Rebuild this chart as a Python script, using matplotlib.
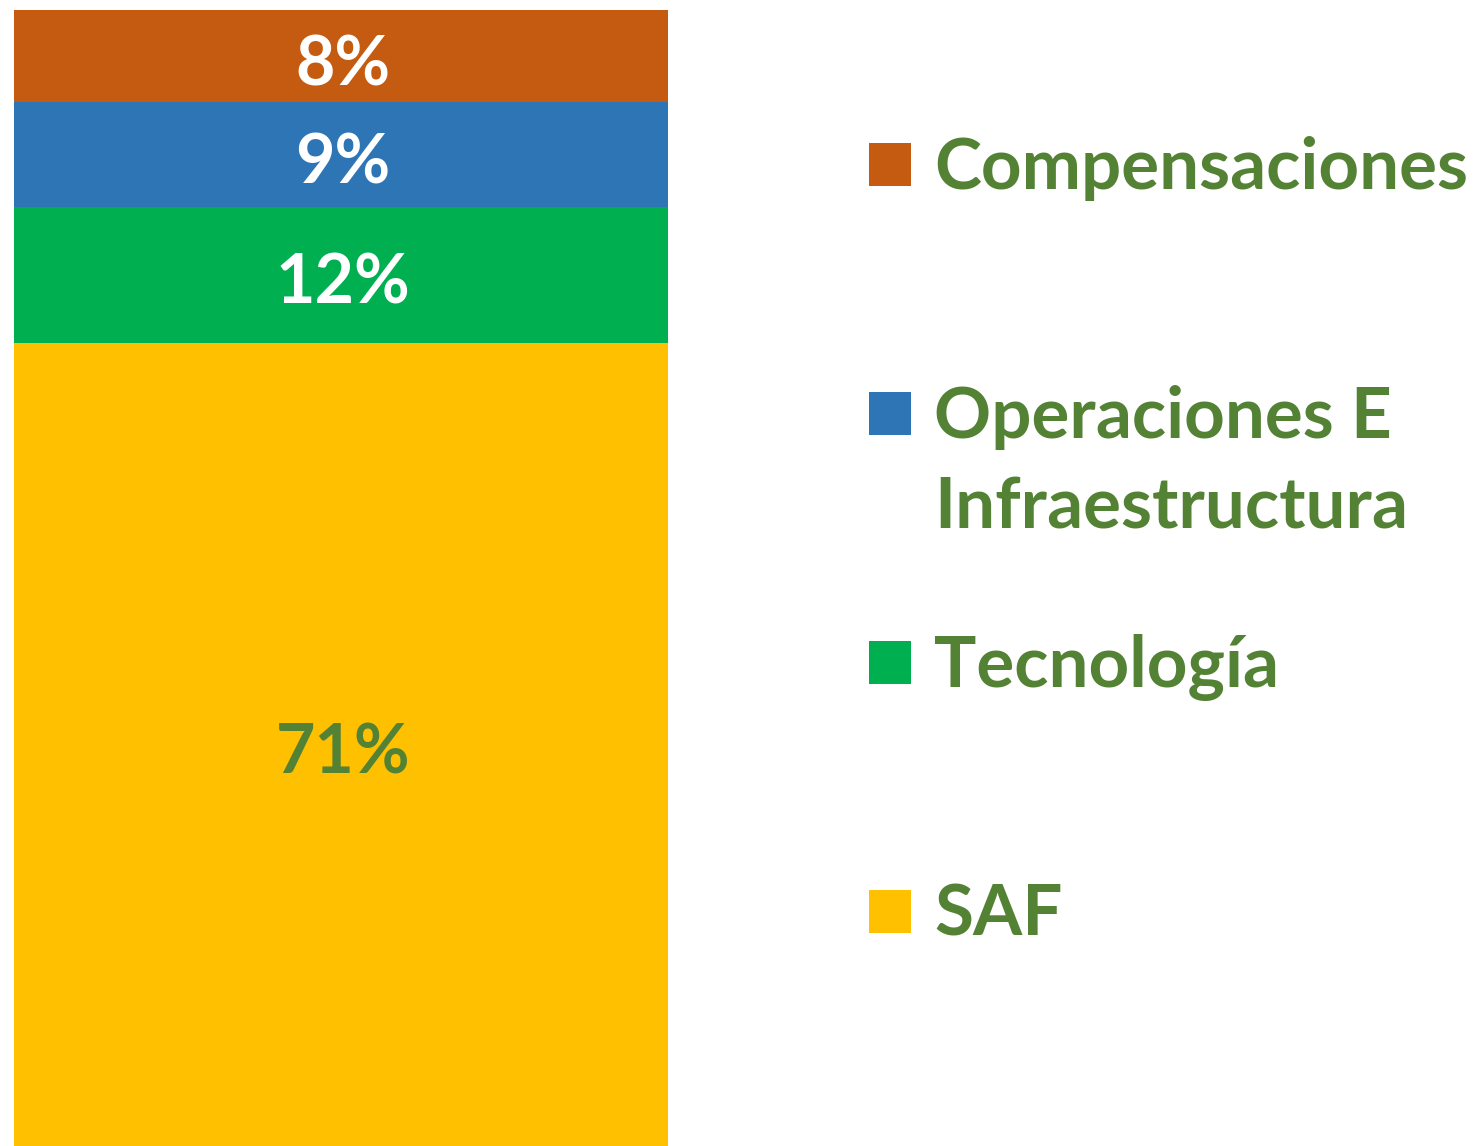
import matplotlib
matplotlib.use("Agg")
from matplotlib import pyplot as plt
from matplotlib.patches import Rectangle

# data, bottom to top (shares, labels are rounded)
categories = ["SAF", "Tecnología", "Operaciones E\nInfraestructura", "Compensaciones"]
shares = [70.7, 12.0, 9.2, 8.1]
colors = ["#FFC000", "#00B050", "#2E75B6", "#C55A11"]
label_colors = ["#548235", "white", "white", "white"]

TEXT_GREEN = "#548235"
FONT = "Lato"


def main():
    fig = plt.figure(figsize=(14.78, 11.46), dpi=100)
    W, H = 1478, 1146

    ax = fig.add_axes([14 / W, 0, 654 / W, 1136 / H])
    bottom = 0
    for val, col, lcol in zip(shares, colors, label_colors):
        ax.bar(0, val, bottom=bottom, width=1, color=col, linewidth=0)
        # baseline sits about half a cap height below the segment middle
        ax.annotate(f"{val:.0f}%", (0, bottom + val / 2), xytext=(2, -29),
                    textcoords="offset pixels", ha="center", va="baseline",
                    fontsize=49, fontweight="bold", color=lcol, family=FONT)
        bottom += val
    ax.set_xlim(-0.5, 0.5)
    ax.set_ylim(0, sum(shares))
    ax.axis("off")

    # legend, top to bottom, drawn by hand so the swatch sits on the first line
    centers = [165, 414, 663, 912]
    for cat, col, yc in zip(categories[::-1], colors[::-1], centers):
        fig.patches.append(Rectangle((869 / W, 1 - (yc + 21) / H), 42 / W, 43 / H,
                                     transform=fig.transFigure, color=col, lw=0))
        for i, line in enumerate(cat.split("\n")):
            fig.text(934 / W, 1 - (yc + 24 + 91 * i) / H, line, ha="left",
                     va="baseline", fontsize=51, fontweight="bold",
                     color=TEXT_GREEN, family=FONT)

    fig.savefig("out.png", dpi=100)


if __name__ == "__main__":
    main()
